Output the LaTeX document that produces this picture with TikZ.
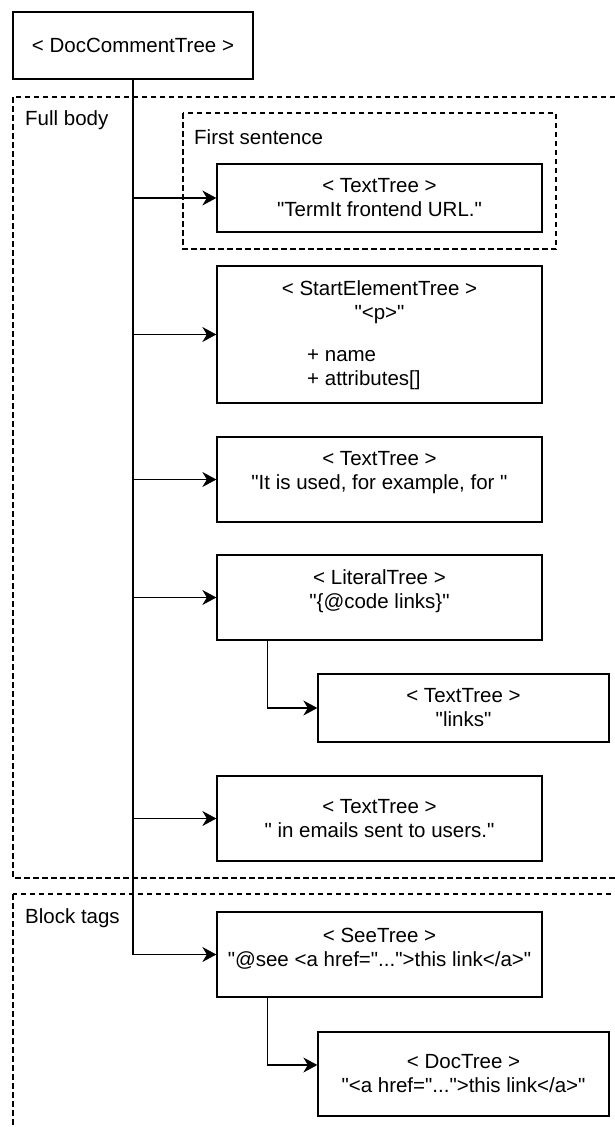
\documentclass[tikz,border=0pt]{standalone}
\usepackage{fontspec}
\setmainfont{Liberation Sans}[Ligatures=TeXOff]
\usetikzlibrary{arrows.meta}

\begin{document}
\begin{tikzpicture}[x=1pt,y=-1pt,>={Stealth[length=14pt,width=15pt,inset=4.5pt]},
  every node/.style={font=\fontsize{20.5}{24}\selectfont},
  txt/.style={align=center,inner sep=0pt},
  box/.style={draw,line width=1.3pt,minimum width=325pt,align=center,inner sep=0pt},
  smallbox/.style={box,minimum width=291pt},
  group/.style={draw,line width=1.2pt,dash pattern=on 5.5pt off 3.5pt},
  grouplbl/.style={anchor=west,inner sep=0pt},
  link/.style={->,line width=1.3pt}]

  % page
  \useasboundingbox (0,0) rectangle (615,1127);
  \clip (0,0) rectangle (615,1127);

  % groups
  \draw[group] (13,97) rectangle (640,878);
  \node[grouplbl] (fullbody) at (25,120) {Full body};
  \draw[group] (183,113) rectangle (556,249);
  \node[grouplbl] (firstsent) at (194,137) {First sentence};
  \draw[group] (13,894) rectangle (640,1160);
  \node[grouplbl] (blocktags) at (25,918) {Block tags};

  % root
  \node[box,minimum width=240pt,minimum height=67pt] (root) at (133,45.5) {< DocCommentTree >};

  % first sentence
  \node[box,minimum height=68pt] (first) at (379.5,198) {< TextTree >\\"TermIt frontend URL."};

  % start element
  \node[box,minimum height=137pt] (start) at (379.5,334.5) {};
  \node[txt] (starthead) at (379.5,302) {< StartElementTree >\\"<p>"};
  \node[txt,align=left,anchor=west] (startattr) at (307,370) {+ name\\+ attributes[]};

  % text
  \node[box,minimum height=85pt] (text2) at (379.5,479.5) {};
  \node[txt] (text2lbl) at (379.5,472.5) {< TextTree >\\"It is used, for example, for "};

  % literal
  \node[box,minimum height=85pt] (literal) at (379.5,597.5) {};
  \node[txt] (literallbl) at (379.5,591) {< LiteralTree >\\"\{@code links\}"};
  \node[smallbox,minimum height=68pt] (links) at (463.5,708) {< TextTree >\\"links"};

  % text
  \node[box,minimum height=85pt] (text3) at (379.5,818.5) {< TextTree >\\" in emails sent to users."};

  % block tags
  \node[box,minimum height=85pt] (see) at (379.5,954.5) {};
  \node[txt] (seelbl) at (379.5,948.5) {< SeeTree >\\"@see <a href="...">this link</a>"};
  \node[smallbox,minimum height=84pt] (doc) at (463.5,1074) {< DocTree >\\"<a href="...">this link</a>"};

  % connectors
  \draw[link] (root.south) |- (see.west);
  \foreach \n in {first,start,text2,literal,text3}
    \draw[link] (root.south |- \n.west) -- (\n.west);
  \draw[link] ([xshift=51pt]literal.south west) |- (links.west);
  \draw[link] ([xshift=51pt]see.south west) |- ([yshift=9pt]doc.west);

\end{tikzpicture}
\end{document}
